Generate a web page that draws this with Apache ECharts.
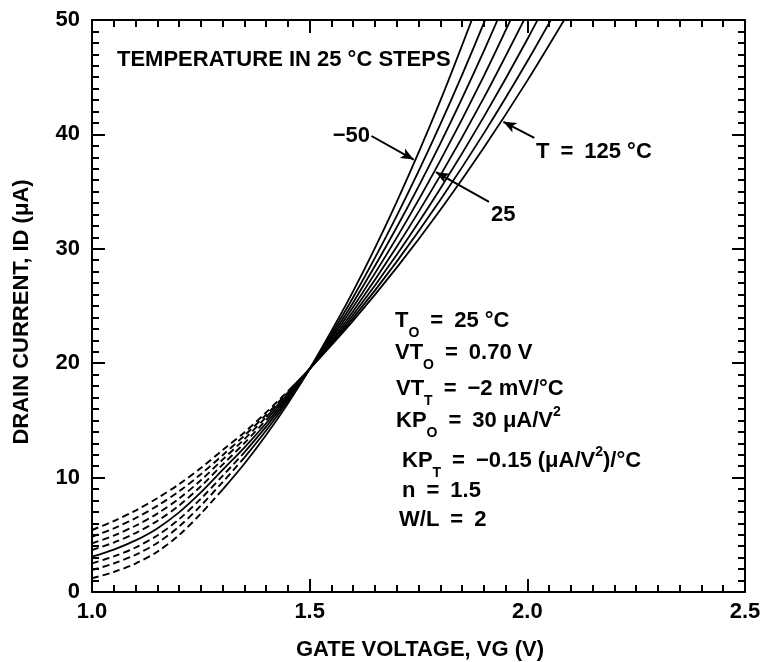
<!DOCTYPE html>
<html>
<head>
<meta charset="utf-8">
<script src="https://cdn.jsdelivr.net/npm/echarts@6/dist/echarts.min.js"></script>
<style>
html,body{margin:0;padding:0;background:#ffffff;}
#chart{width:770px;height:662px;}
</style>
</head>
<body>
<div id="chart"></div>
<script>
// ---- data ----
const gateVoltage = [1.0, 1.05, 1.1, 1.15, 1.2, 1.25, 1.3, 1.35, 1.4, 1.45, 1.5, 1.6, 1.7, 1.8, 1.9, 2.0, 2.1];
const temperatures = [-50, -25, 0, 25, 50, 75, 100, 125];
const idTm50 = [1.20, 1.75, 2.49, 3.52, 4.97, 6.85, 8.95, 11.21, 13.72, 16.48, 19.50, 26.30, 34.11, 42.93, 52.77, null, null];
const idTm25 = [1.92, 2.49, 3.25, 4.29, 5.72, 7.55, 9.60, 11.75, 14.12, 16.70, 19.50, 25.76, 32.88, 40.87, 49.73, 59.46, null];
const idT0   = [2.51, 3.11, 3.89, 4.94, 6.36, 8.15, 10.15, 12.20, 14.45, 16.88, 19.50, 25.31, 31.88, 39.20, 47.28, 56.12, null];
const idT25  = [3.09, 3.71, 4.51, 5.56, 6.96, 8.70, 10.67, 12.63, 14.75, 17.04, 19.50, 24.91, 30.98, 37.71, 45.10, 53.16, null];
const idT50  = [3.67, 4.32, 5.15, 6.21, 7.56, 9.24, 11.14, 13.01, 15.03, 17.19, 19.50, 24.55, 30.18, 36.40, 43.19, 50.57, null];
const idT75  = [4.25, 4.93, 5.79, 6.85, 8.17, 9.77, 11.57, 13.36, 15.28, 17.33, 19.50, 24.24, 29.48, 35.25, 41.53, 48.32, 55.62];
const idT100 = [4.83, 5.56, 6.46, 7.53, 8.80, 10.30, 11.96, 13.67, 15.50, 17.44, 19.50, 23.96, 28.88, 34.26, 40.09, 46.39, 53.14];
const idT125 = [5.42, 6.20, 7.12, 8.20, 9.42, 10.84, 12.40, 13.95, 15.70, 17.55, 19.50, 23.72, 28.35, 33.39, 38.84, 44.70, 50.98];
// gate voltage where each curve changes from dashed to solid (null = solid throughout)
const dashEndVoltage = [1.30, 1.35, 1.35, null, 1.40, 1.40, 1.45, 1.45];
const xTickLabels = ['1.0', '1.5', '2.0', '2.5'];
const yTickLabels = ['0', '10', '20', '30', '40', '50'];
// annotation arrows in data units: [from, to]
const arrowMinus50 = [[1.642, 39.86], [1.739, 37.8]];
const arrow25 = [[1.912, 34.1], [1.790, 36.7]];
const arrow125 = [[2.016, 39.7], [1.945, 41.1]];

const curves = [idTm50, idTm25, idT0, idT25, idT50, idT75, idT100, idT125];

const FONT = '"Liberation Sans", Arial, Helvetica, sans-serif';
const series = [];
curves.forEach((vals, i) => {
  const pts = gateVoltage.map((v, k) => [v, vals[k]]).filter(p => p[1] !== null);
  const dEnd = dashEndVoltage[i];
  const base = {
    type: 'line', symbol: 'none', smooth: 0.3, silent: true,
    clip: true, z: 3
  };
  if (dEnd === null) {
    series.push(Object.assign({}, base, {
      name: 'T' + temperatures[i], data: pts,
      lineStyle: { color: '#000', width: 1.8, type: 'solid' }
    }));
  } else {
    series.push(Object.assign({}, base, {
      name: 'T' + temperatures[i] + ' dashed',
      data: pts.filter(p => p[0] <= dEnd + 1e-9),
      lineStyle: { color: '#000', width: 1.9, type: [7, 4] }
    }));
    series.push(Object.assign({}, base, {
      name: 'T' + temperatures[i],
      data: pts.filter(p => p[0] >= dEnd - 1e-9),
      lineStyle: { color: '#000', width: 1.8, type: 'solid' }
    }));
  }
});
series.push({
  type: 'line', data: [], symbol: 'none', silent: true,
  markLine: {
    silent: true, animation: false,
    symbol: ['none', 'arrow'], symbolSize: [8, 13],
    label: { show: false },
    lineStyle: { color: '#000', width: 2, type: 'solid' },
    emphasis: { disabled: true },
    data: [
      [{ coord: arrowMinus50[0] }, { coord: arrowMinus50[1] }],
      [{ coord: arrow25[0] }, { coord: arrow25[1] }],
      [{ coord: arrow125[0] }, { coord: arrow125[1] }]
    ]
  }
});

const axisLineStyle = { color: '#000', width: 2 };
const mkX = (pos, showLabel) => ({
  type: 'value', position: pos, min: 1.0, max: 2.5, interval: 0.5,
  axisLine: { show: true, onZero: false, lineStyle: axisLineStyle },
  axisTick: { show: true, inside: true, length: 13, lineStyle: { color: '#000', width: 2 } },
  minorTick: { show: true, splitNumber: 10, length: 7, lineStyle: { color: '#000', width: 2 } },
  splitLine: { show: false }, minorSplitLine: { show: false },
  axisLabel: {
    show: showLabel, margin: 9, color: '#000', fontFamily: FONT, fontSize: 22, fontWeight: 'bold',
    formatter: (v) => xTickLabels[Math.round((v - 1.0) / 0.5)]
  }
});
const mkY = (pos, showLabel) => ({
  type: 'value', position: pos, min: 0, max: 50, interval: 10,
  axisLine: { show: true, onZero: false, lineStyle: axisLineStyle },
  axisTick: { show: true, inside: true, length: 13, lineStyle: { color: '#000', width: 2 } },
  minorTick: { show: true, splitNumber: 10, length: 7, lineStyle: { color: '#000', width: 2 } },
  splitLine: { show: false }, minorSplitLine: { show: false },
  axisLabel: {
    show: showLabel, margin: 12, color: '#000', fontFamily: FONT, fontSize: 22, fontWeight: 'bold',
    formatter: (v) => yTickLabels[Math.round(v / 10)]
  }
});

const textStyleBase = { fill: '#000', fontFamily: FONT, fontSize: 22, fontWeight: 'bold' };
const rich = {
  sub: { fontFamily: FONT, fontSize: 14, fontWeight: 'bold', fill: '#000', padding: [24, 0, 0, 0] },
  sup: { fontFamily: FONT, fontSize: 14, fontWeight: 'bold', fill: '#000', padding: [0, 0, 18, 0] }
};
function txt(x, y, text, align, extra) {
  return Object.assign({
    type: 'text', x: x, y: y, silent: true, z: 10,
    style: Object.assign({}, textStyleBase, {
      text: text, align: align || 'left', verticalAlign: 'middle', rich: rich
    })
  }, extra || {});
}
const S = '\u2002';
const graphics = [
  txt(117, 60, 'TEMPERATURE IN 25 °C STEPS'),
  txt(370, 136, '\u221250', 'right'),
  txt(491, 215, '25'),
  txt(536, 152, 'T' + S + '=' + S + '125 °C'),
  txt(395, 321, 'T{sub|O}' + S + '=' + S + '25 °C'),
  txt(395, 353, 'VT{sub|O}' + S + '=' + S + '0.70 V'),
  txt(396, 389, 'VT{sub|T}' + S + '=' + S + '\u22122 mV/°C'),
  txt(396, 421, 'KP{sub|O}' + S + '=' + S + '30 μA/V{sup|2}'),
  txt(402, 461, 'KP{sub|T}' + S + '=' + S + '\u22120.15 (μA/V{sup|2})/°C'),
  txt(402, 491, 'n' + S + '=' + S + '1.5'),
  txt(399, 520, 'W/L' + S + '=' + S + '2'),
  txt(420, 650, 'GATE VOLTAGE, VG (V)', 'center'),
  txt(22, 312, 'DRAIN CURRENT, ID (μA)', 'center', { rotation: Math.PI / 2 })
];

const chart = echarts.init(document.getElementById('chart'), null, { renderer: 'canvas' });
chart.setOption({
  animation: false,
  backgroundColor: '#ffffff',
  grid: { left: 92, right: 25, top: 20, bottom: 70, containLabel: false },
  xAxis: [mkX('bottom', true), mkX('top', false)],
  yAxis: [mkY('left', true), mkY('right', false)],
  series: series,
  graphic: graphics
});
</script>
</body>
</html>
